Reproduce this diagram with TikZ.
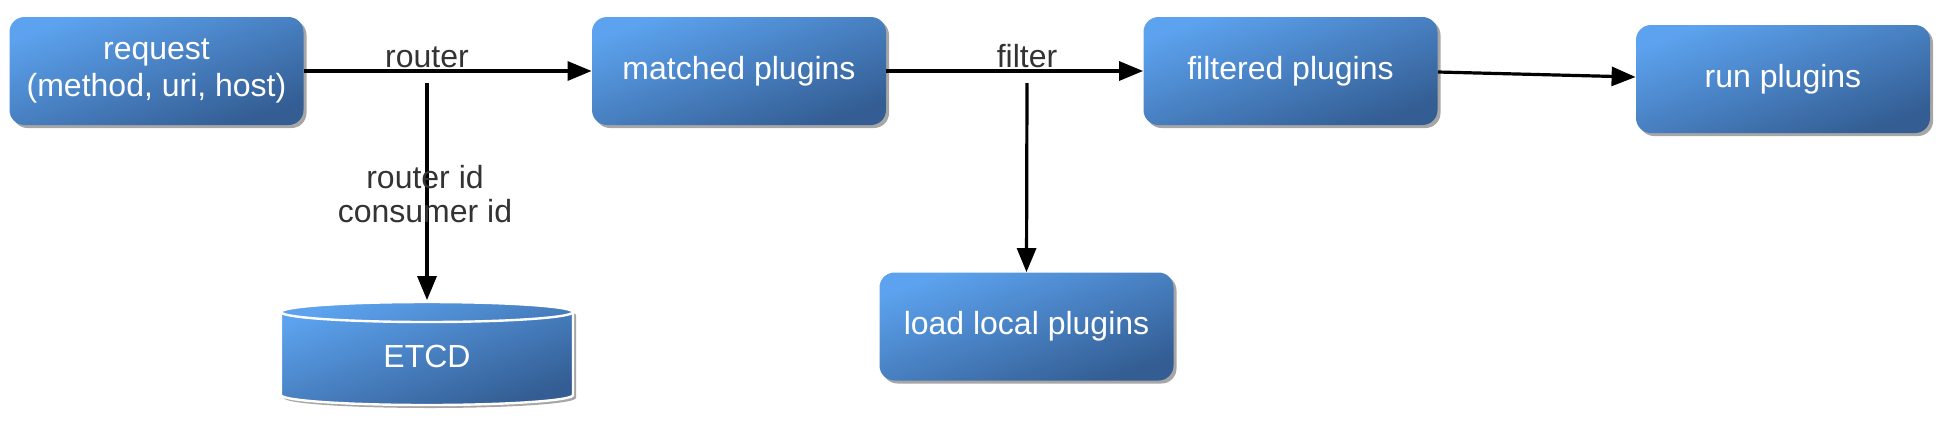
\documentclass[tikz,border=0pt]{standalone}
\usepackage{fontspec}
\setmainfont{Liberation Sans}
\usetikzlibrary{arrows.meta,shadows}
\definecolor{bluelight}{HTML}{5CA2EE}
\definecolor{bluedark}{HTML}{335D93}
\definecolor{labelgray}{HTML}{333333}
\begin{document}
\begin{tikzpicture}[x=0.5pt,y=-0.5pt,
  myshadow/.style={drop shadow={shadow xshift=1.5pt, shadow yshift=-1.5pt, opacity=0.35, fill=black}},
  blueshade/.style={top color=bluelight, bottom color=bluedark, shading angle=20},
  box/.style={rounded corners=7.5pt, minimum width=147pt, minimum height=54pt, inner sep=0pt,
    align=center, text=white, font=\fontsize{16}{18.5}\selectfont, blueshade, myshadow},
  arr/.style={line width=1.6pt, -{Triangle[length=12pt,width=9.5pt]}},
  lbl/.style={text=labelgray, font=\fontsize{16}{17}\selectfont, inner sep=0pt, align=center}]
\useasboundingbox (0,0) rectangle (1950,430);

% boxes
\node[box] (req) at (156.5,71) {request\\(method, uri, host)};
\node[box] (matched) at (739,71) {matched plugins};
\node[box] (filtered) at (1290.5,71) {filtered plugins};
\node[box] (run) at (1783,79) {run plugins};
\node[box] (load) at (1026.5,326.5) {load local plugins};

% cylinder ETCD
\path[myshadow, blueshade, draw=white, line width=1.2pt]
  (281,312) -- (281,395) arc[start angle=180, end angle=0, x radius=146, y radius=10]
  -- (573,312) arc[start angle=0, end angle=-180, x radius=146, y radius=10] -- cycle;
\draw[white, line width=1.2pt] (281,312) arc[start angle=180, end angle=0, x radius=146, y radius=10];
\node[minimum width=146pt, minimum height=51.5pt, inner sep=0pt, text=white,
  font=\fontsize{16}{18.5}\selectfont] (etcd) at (427,356) {ETCD};

% connectors
\coordinate (rdown) at (427,83);
\coordinate (fdown) at (1027,83);
\draw[arr] (req) -- (matched);
\draw[arr] (matched) -- (filtered);
\draw[arr] ([yshift=-0.5pt]filtered.east) -- ([yshift=1pt]run.west);
\draw[arr, shorten >=2pt] (rdown) -- (etcd.north);
\draw[arr] (fdown) -- (load.north);

% labels
\node[lbl] (lrouter) at (427,57) {router};
\node[lbl] (lfilter) at (1027,56) {filter};
\node[lbl] (lids) at (425,194) {router id\\consumer id};
\end{tikzpicture}
\end{document}
